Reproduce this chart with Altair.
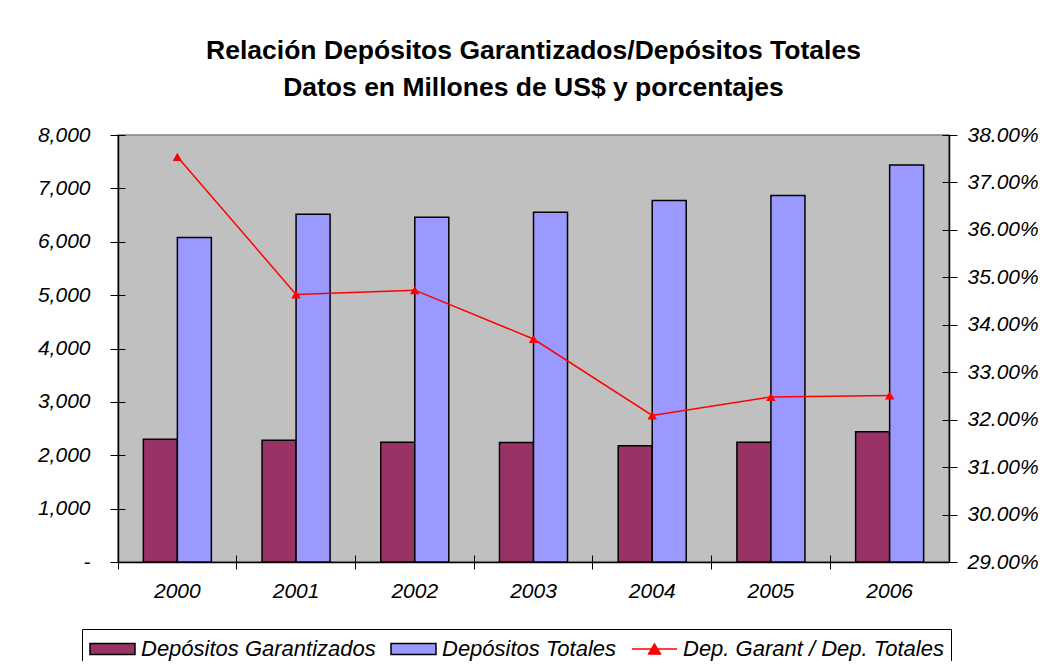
import altair as alt
import pandas as pd

years = ["2000", "2001", "2002", "2003", "2004", "2005", "2006"]
garantizados = [2300, 2280, 2245, 2240, 2180, 2245, 2440]
totales = [6080, 6515, 6460, 6555, 6775, 6865, 7440]
ratio = [0.3754, 0.3464, 0.3473, 0.3370, 0.3209, 0.3248, 0.3251]

s_g = "Depósitos Garantizados"
s_t = "Depósitos Totales"
s_r = "Dep. Garant / Dep. Totales"
series_names = [s_g, s_t, s_r]
left_ticks = [0, 1000, 2000, 3000, 4000, 5000, 6000, 7000, 8000]
right_ticks = [0.29, 0.30, 0.31, 0.32, 0.33, 0.34, 0.35, 0.36, 0.37, 0.38]

bars_df = pd.DataFrame({
    "year": years + years,
    "serie": [s_g] * len(years) + [s_t] * len(years),
    "valor": garantizados + totales,
})
line_df = pd.DataFrame({"year": years, "ratio": ratio})
legend_df = pd.DataFrame({"serie": series_names})

FONT = "Liberation Sans"
rect_path = "M-1,-0.46H2.75V0.46H-1Z"
line_path = "M-1,0H2.75M0.375,0.42L0.875,-0.42L1.375,0.42Z"

x_scale = alt.Scale(domain=years, paddingInner=0, paddingOuter=0)
xoff_scale = alt.Scale(domain=[s_g, s_t], paddingInner=0, paddingOuter=0.745)
yl_scale = alt.Scale(domain=[0, 8000], nice=False, zero=True)
yr_scale = alt.Scale(domain=[0.29, 0.38], nice=False, zero=False)
fill_scale = alt.Scale(domain=series_names, range=["#993366", "#9999FF", "#FF0000"])
stroke_scale = alt.Scale(domain=series_names, range=["#000000", "#000000", "#FF0000"])
shape_scale = alt.Scale(domain=series_names, range=[rect_path, rect_path, line_path])

legend = alt.Legend(
    title=None, orient="none", legendX=-36, legendY=494, direction="horizontal",
    labelFont=FONT, labelFontStyle="italic", labelFontSize=22, labelColor="black",
    symbolSize=576, symbolStrokeWidth=1.5, labelOffset=26, columnPadding=12,
    padding=7, strokeColor="black", fillColor="white", labelLimit=400,
)

bars = alt.Chart(bars_df).mark_bar(stroke="black", strokeWidth=1.5).encode(
    x=alt.X("year:N", scale=x_scale, sort=years,
            axis=alt.Axis(orient="bottom", title=None, labelAngle=0, ticks=False, tickSize=0,
                          labelPadding=18, domainColor="black", domainWidth=1.5)),
    xOffset=alt.XOffset("serie:N", scale=xoff_scale, sort=[s_g, s_t]),
    y=alt.Y("valor:Q", scale=yl_scale,
            axis=alt.Axis(orient="left", title=None, values=left_ticks, grid=False,
                          ticks=False, tickSize=0, labelPadding=28,
                          domainColor="black", domainWidth=1.5,
                          labelExpr="datum.value == 0 ? '-' : format(datum.value, ',')")),
    fill=alt.Fill("serie:N", scale=fill_scale, legend=legend),
)

ticks_layer = alt.Chart(bars_df).mark_bar(opacity=0).encode(
    x=alt.X("year:N", scale=x_scale, sort=years,
            axis=alt.Axis(orient="bottom", title=None, labels=False, domain=False, ticks=True,
                          tickSize=14, offset=-7, bandPosition=0,
                          tickColor="black", tickWidth=1)),
    xOffset=alt.XOffset("serie:N", scale=xoff_scale, sort=[s_g, s_t]),
    y=alt.Y("valor:Q", scale=yl_scale,
            axis=alt.Axis(orient="left", title=None, values=left_ticks, grid=False,
                          labels=False, domain=False, tickSize=15, offset=-7,
                          tickColor="black", tickWidth=1)),
)

line = alt.Chart(line_df).mark_line(color="#FF0000", strokeWidth=1.5).encode(
    x=alt.X("year:N", scale=x_scale, sort=years, axis=None),
    y=alt.Y("ratio:Q", scale=yr_scale,
            axis=alt.Axis(orient="right", title=None, values=right_ticks, format=".2%",
                          grid=False, ticks=False, tickSize=0, labelPadding=18,
                          domainColor="black", domainWidth=1.5)),
)

points = alt.Chart(line_df).mark_point(
    shape="triangle-up", filled=True, color="#FF0000", size=90, opacity=1
).encode(
    x=alt.X("year:N", scale=x_scale, sort=years, axis=None),
    y=alt.Y("ratio:Q", scale=yr_scale,
            axis=alt.Axis(orient="right", title=None, values=right_ticks, grid=False,
                          labels=False, domain=False, tickSize=15, offset=-7,
                          tickColor="black", tickWidth=1)),
)

legend_layer = alt.Chart(legend_df).mark_point(filled=True, opacity=1, strokeWidth=1.5).encode(
    fill=alt.Fill("serie:N", scale=fill_scale, legend=legend),
    stroke=alt.Stroke("serie:N", scale=stroke_scale, legend=legend),
    shape=alt.Shape("serie:N", scale=shape_scale, legend=legend),
).transform_filter("false")

chart = alt.layer(bars, ticks_layer, line, points, legend_layer).resolve_scale(
    y="independent"
).resolve_axis(
    x="independent", y="independent"
).properties(
    width=831,
    height=427,
    background="white",
    view=alt.ViewBackground(fill="#C0C0C0", stroke="#808080", strokeWidth=1.5),
    title=alt.Title(
        ["Relación Depósitos Garantizados/Depósitos Totales",
         "Datos en Millones de US$ y porcentajes"],
        font=FONT, fontSize=26.5, fontWeight="bold", color="black",
        anchor="middle", offset=23, lineHeight=37,
    ),
    autosize=alt.AutoSizeParams(type="none"),
    padding={"left": 110, "top": 127, "right": 90, "bottom": 99},
).configure_view(
    fill="#C0C0C0", stroke="#808080", strokeWidth=1.5
).configure_axis(
    labelFont=FONT, labelFontStyle="italic", labelFontSize=21, labelColor="black",
)

chart.save("out.html", embed_options={"renderer": "svg", "actions": False})
